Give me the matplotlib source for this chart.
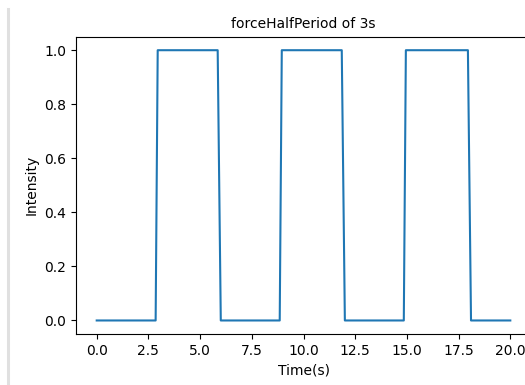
import matplotlib
matplotlib.use("Agg")
import matplotlib.pyplot as plt
from matplotlib.lines import Line2D

# breakpoints of the square wave (half period 3 s)
time_s = [0.0, 2.85, 2.95, 5.85, 6.0, 8.85, 8.95, 11.85, 12.0,
          14.85, 14.95, 17.95, 18.1, 20.0]
intensity = [0, 0, 1, 1, 0, 0, 1, 1, 0, 0, 1, 1, 0, 0]

fig = plt.figure(figsize=(5.25, 3.85), dpi=100)
ax = fig.add_axes([0.1448, 0.1325, 0.8666, 0.7722])
ax.plot(time_s, intensity)
ax.set_xticks([0, 2.5, 5, 7.5, 10, 12.5, 15, 17.5, 20])
ax.set_yticks([0, 0.2, 0.4, 0.6, 0.8, 1.0])
ax.set_xlabel("Time(s)")
ax.set_ylabel("Intensity")
ax.set_title("forceHalfPeriod of 3s", fontsize=10)

# notebook cell border on the left
fig.add_artist(Line2D([8 / 525, 8 / 525], [0.0, 1 - 9 / 385],
                      transform=fig.transFigure, color="#e0e0e0", lw=2.2))

fig.savefig("out.png", dpi=100)
